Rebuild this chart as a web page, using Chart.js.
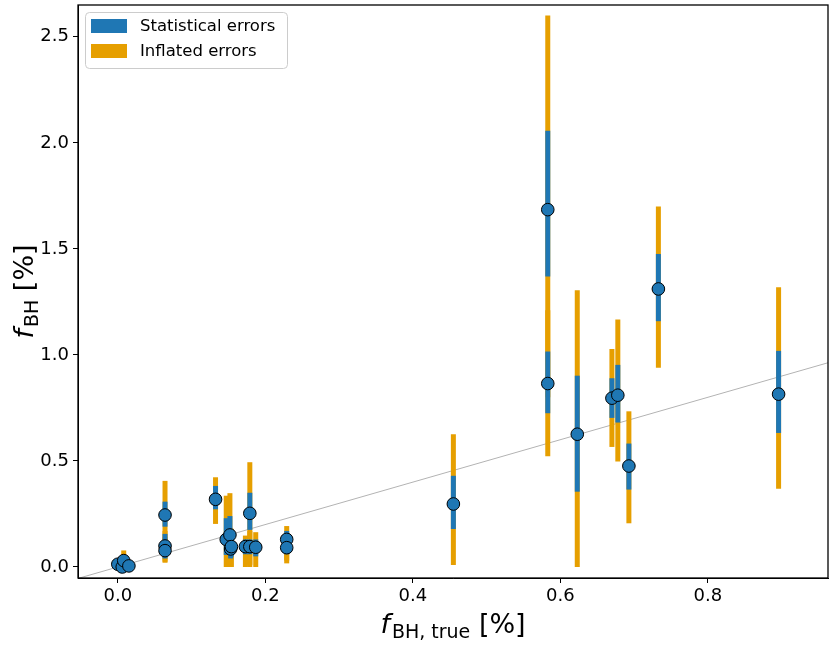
<!DOCTYPE html>
<html>
<head>
<meta charset="utf-8">
<script src="https://cdn.jsdelivr.net/npm/chart.js@4.4.1/dist/chart.umd.min.js"></script>
<style>
  body { margin: 0; background: #fff; }
  #wrap { width: 831px; height: 645px; position: relative; }
</style>
</head>
<body>
<div id="wrap"><canvas id="fbh-chart"></canvas></div>
<script>
// values (percent)
const f_true = [0.455, 0.583, 0.583, 0.623, 0.670, 0.678, 0.693, 0.733, 0.896,
                0.000, 0.006, 0.008, 0.015, 0.064, 0.064, 0.064, 0.1325, 0.147,
                0.152, 0.153, 0.154, 0.173, 0.179, 0.179, 0.187, 0.229, 0.229];
const f_bh = [0.297, 1.685, 0.865, 0.626, 0.796, 0.810, 0.476, 1.311, 0.815,
              0.013, 0.000, 0.030, 0.005, 0.245, 0.099, 0.077, 0.319, 0.130,
              0.151, 0.085, 0.096, 0.096, 0.253, 0.096, 0.093, 0.130, 0.091];
// statistical error bar ends
const stat_lo = [0.179, 1.370, 0.725, 0.355, 0.703, 0.681, 0.365, 1.159, 0.632,
                 0.003, 0.000, 0.012, 0.000, 0.190, 0.050, 0.040, 0.272, 0.057,
                 0.060, 0.040, 0.050, 0.060, 0.175, 0.060, 0.050, 0.090, 0.060];
const stat_hi = [0.430, 2.057, 1.016, 0.902, 0.890, 0.953, 0.582, 1.476, 1.019,
                 0.023, 0.010, 0.050, 0.015, 0.308, 0.156, 0.120, 0.382, 0.230,
                 0.240, 0.130, 0.140, 0.130, 0.350, 0.130, 0.130, 0.170, 0.120];
// inflated error bar ends
const infl_lo = [0.009, 0.800, 0.522, 0.000, 0.566, 0.497, 0.206, 0.940, 0.369,
                 0.000, 0.000, 0.000, 0.000, 0.085, 0.025, 0.020, 0.203, 0.000,
                 0.000, 0.000, 0.000, 0.000, 0.000, 0.010, 0.000, 0.030, 0.017];
const infl_hi = [0.626, 2.600, 1.210, 1.305, 1.028, 1.167, 0.734, 1.700, 1.319,
                 0.035, 0.020, 0.078, 0.025, 0.406, 0.170, 0.140, 0.423, 0.336,
                 0.348, 0.170, 0.180, 0.148, 0.494, 0.170, 0.164, 0.193, 0.160];

const x_ticks = [0.0, 0.2, 0.4, 0.6, 0.8];
const y_ticks = [0.0, 0.5, 1.0, 1.5, 2.0, 2.5];
const legend_labels = ['Statistical errors', 'Inflated errors'];

const BLUE = '#1f77b4';
const ORANGE = '#e69f00';
const FONT = "'DejaVu Sans', sans-serif";

const points = [];
for (let i = 0; i < f_true.length; i++) {
    points.push({x: f_true[i], y: f_bh[i]});
}

// vertical error bars, inflated first so the statistical ones sit on top
const errorBars = {
    id: 'errorBars',
    beforeDatasetDraw(chart, args) {
        if (args.index !== 1) return;
        const ctx = chart.ctx;
        const xs = chart.scales.x, ys = chart.scales.y;
        const area = chart.chartArea;
        ctx.save();
        ctx.beginPath();
        ctx.rect(area.left, area.top, area.right - area.left, area.bottom - area.top);
        ctx.clip();
        ctx.lineWidth = 5;
        ctx.lineCap = 'butt';
        const sets = [[infl_lo, infl_hi, ORANGE], [stat_lo, stat_hi, BLUE]];
        for (const [lo, hi, col] of sets) {
            ctx.strokeStyle = col;
            for (let i = 0; i < f_true.length; i++) {
                const px = xs.getPixelForValue(f_true[i]);
                ctx.beginPath();
                ctx.moveTo(px, ys.getPixelForValue(lo[i]));
                ctx.lineTo(px, ys.getPixelForValue(hi[i]));
                ctx.stroke();
            }
        }
        ctx.restore();
    }
};

function drawSubTitle(ctx, main, sub, tail) {
    // draws centered at (0,0) on the baseline
    ctx.font = 'oblique 27px ' + FONT;
    const w1 = ctx.measureText(main).width;
    ctx.font = '19px ' + FONT;
    const w2 = ctx.measureText(sub).width;
    ctx.font = '27px ' + FONT;
    const w3 = ctx.measureText(tail).width;
    let x = -(w1 + w2 + w3 + 2) / 2;
    ctx.textAlign = 'left';
    ctx.textBaseline = 'alphabetic';
    ctx.fillStyle = '#000';
    ctx.font = 'oblique 27px ' + FONT;
    ctx.fillText(main, x, 0);
    x += w1 + 2;
    ctx.font = '19px ' + FONT;
    ctx.fillText(sub, x, 5);
    x += w2;
    ctx.font = '27px ' + FONT;
    ctx.fillText(tail, x, 0);
}

const decorations = {
    id: 'decorations',
    afterDraw(chart) {
        const ctx = chart.ctx;
        const a = chart.chartArea;
        ctx.save();
        // frame
        ctx.strokeStyle = '#000';
        ctx.lineWidth = 1.3;
        ctx.strokeRect(a.left, a.top, a.right - a.left, a.bottom - a.top);

        // legend
        const lx = a.left + 7, ly = a.top + 7, lw = 202, lh = 56;
        ctx.beginPath();
        ctx.roundRect(lx + 0.5, ly + 0.5, lw, lh, 4);
        ctx.fillStyle = 'rgba(255,255,255,0.8)';
        ctx.fill();
        ctx.lineWidth = 1;
        ctx.strokeStyle = '#cccccc';
        ctx.stroke();
        const cols = [BLUE, ORANGE];
        ctx.font = '16.5px ' + FONT;
        ctx.textBaseline = 'middle';
        ctx.textAlign = 'left';
        for (let i = 0; i < legend_labels.length; i++) {
            const cy = ly + 14 + i * 25;
            ctx.fillStyle = cols[i];
            ctx.fillRect(lx + 6, cy - 7, 36, 14);
            ctx.fillStyle = '#000';
            ctx.fillText(legend_labels[i], lx + 55, cy + 1);
        }

        // axis titles
        ctx.save();
        ctx.translate((a.left + a.right) / 2, 633);
        drawSubTitle(ctx, 'f', 'BH, true', ' [%]');
        ctx.restore();
        ctx.save();
        ctx.translate(33, (a.top + a.bottom) / 2);
        ctx.rotate(-Math.PI / 2);
        drawSubTitle(ctx, 'f', 'BH', ' [%]');
        ctx.restore();
        ctx.restore();
    }
};

const ctx = document.getElementById('fbh-chart').getContext('2d');

const data = {
    datasets: [{
        type: 'line',
        label: 'one-to-one',
        data: [{x: -1, y: -1}, {x: 2, y: 2}],
        borderColor: '#b3b3b3',
        borderWidth: 1,
        pointRadius: 0,
        order: 2
    }, {
        type: 'scatter',
        label: 'f_BH',
        data: points,
        pointRadius: 6.3,
        pointHoverRadius: 6.3,
        backgroundColor: BLUE,
        borderColor: '#000',
        borderWidth: 1,
        order: 1
    }]
};

const tickFont = {family: FONT, size: 18};

const options = {
    responsive: true,
    maintainAspectRatio: false,
    animation: false,
    layout: {autoPadding: false, padding: {top: 5, right: 3, left: 0, bottom: 0}},
    plugins: {legend: {display: false}, tooltip: {enabled: false}},
    scales: {
        x: {
            type: 'linear',
            min: -0.054,
            max: 0.963,
            afterBuildTicks: (s) => { s.ticks = x_ticks.map(v => ({value: v})); },
            afterFit: (s) => { s.height = 67; s.paddingLeft = 0; s.paddingRight = 0; },
            grid: {display: true, drawOnChartArea: false, drawTicks: true, tickLength: 5, color: '#000'},
            border: {display: true, color: '#000'},
            ticks: {color: '#000', font: tickFont, padding: 3, maxRotation: 0,
                    callback: (v) => Number(v).toFixed(1)}
        },
        y: {
            type: 'linear',
            min: -0.052,
            max: 2.65,
            afterBuildTicks: (s) => { s.ticks = y_ticks.map(v => ({value: v})); },
            afterFit: (s) => { s.width = 78; s.paddingTop = 0; s.paddingBottom = 0; },
            grid: {display: true, drawOnChartArea: false, drawTicks: true, tickLength: 5, color: '#000'},
            border: {display: true, color: '#000'},
            ticks: {color: '#000', font: tickFont, padding: 4,
                    callback: (v) => Number(v).toFixed(1)}
        }
    }
};

const fbh_chart = new Chart(ctx, {
    type: 'scatter',
    data: data,
    options: options,
    plugins: [errorBars, decorations]
});
</script>
</body>
</html>
